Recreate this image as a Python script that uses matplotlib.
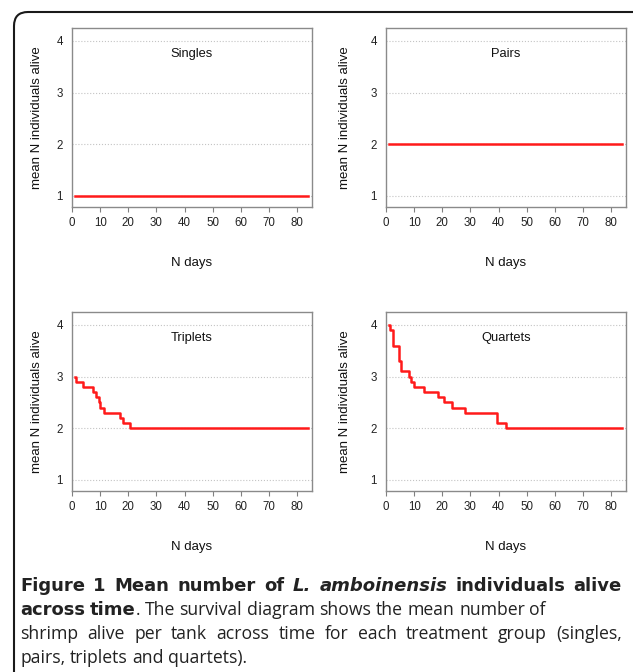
import matplotlib.pyplot as plt
from matplotlib.patches import FancyBboxPatch
from matplotlib.transforms import IdentityTransform

# step data: day at which each level starts, and the mean N alive
singles_days = [1]
singles_vals = [1.0]
pairs_days = [1]
pairs_vals = [2.0]
triplets_days = [1, 1.5, 4, 7.5, 8.5, 9.5, 10, 11.5, 17, 18, 20.5]
triplets_vals = [3.0, 2.9, 2.8, 2.7, 2.6, 2.5, 2.4, 2.3, 2.2, 2.1, 2.0]
quartets_days = [1, 1.5, 2.5, 4.5, 5.5, 8, 9, 10, 13.5, 18.5, 20.5, 23.5, 28, 39.5, 42.5]
quartets_vals = [4.0, 3.9, 3.6, 3.3, 3.1, 3.0, 2.9, 2.8, 2.7, 2.6, 2.5, 2.4, 2.3, 2.1, 2.0]
last_day = 84
titles = ["Singles", "Pairs", "Triplets", "Quartets"]

W, H = 633, 672
fig = plt.figure(figsize=(W / 100, H / 100), dpi=100)
fig.patch.set_facecolor("white")

# outer frame of the figure box
frame = FancyBboxPatch((14, -60), 640, H - 12 + 60,
                       boxstyle="round,pad=0,rounding_size=14",
                       transform=IdentityTransform(), fill=False,
                       edgecolor="#1a1a1a", lw=1.5)
fig.add_artist(frame)

boxes = [(72, 28, 312, 207), (386, 28, 626, 207),
         (72, 312, 312, 491), (386, 312, 626, 491)]
ylab_off = [35, 41, 35, 41]
data = [(singles_days, singles_vals), (pairs_days, pairs_vals),
        (triplets_days, triplets_vals), (quartets_days, quartets_vals)]

sans = "Liberation Sans"
for i in range(4):
    x0, y0, x1, y1 = boxes[i]
    ax = fig.add_axes([x0 / W, 1 - y1 / H, (x1 - x0) / W, (y1 - y0) / H])
    days, vals = data[i]
    ax.step(days + [last_day], vals + [vals[-1]], where="post",
            color="#ff1a1a", lw=1.8, zorder=3)
    ax.set_xlim(0, 85.3)
    ax.set_ylim(0.787, 4.25)
    ax.set_xticks(range(0, 81, 10))
    ax.set_yticks([1, 2, 3, 4])
    ax.grid(axis="y", ls=":", color="#c4c4c4", lw=0.8)
    ax.tick_params(axis="y", length=0, pad=6.5, labelsize=8.3, labelcolor="#222222")
    ax.tick_params(axis="x", length=3.6, pad=3.5, labelsize=8.3,
                   color="#808080", labelcolor="#222222")
    for lab in ax.get_xticklabels() + ax.get_yticklabels():
        lab.set_family(sans)
    for sp in ax.spines.values():
        sp.set_color("#8a8a8a")
        sp.set_linewidth(1.0)
    ax.text(0.5, 0.855, titles[i], transform=ax.transAxes, ha="center",
            va="center", fontsize=9.3, family=sans, color="#111111")
    ax.text(0.5, -0.313, "N days", transform=ax.transAxes, ha="center",
            va="center", fontsize=9.5, family=sans, color="#111111")
    ax.text(-ylab_off[i] / (x1 - x0), 0.5, "mean N individuals alive",
            transform=ax.transAxes, ha="center", va="center", rotation=90,
            fontsize=9.5, family=sans, color="#111111")

# caption, placed word by word so that lines can be justified
renderer = fig.canvas.get_renderer()
cap_size = 12.7
bold_size = 13.0
left, right = 20, 622


def make_text(x, y, txt, weight, style):
    if weight == "bold":
        return fig.text(x, y, txt, fontsize=bold_size, family="DejaVu Sans",
                        weight="bold", style=style, color="#222222", va="baseline")
    return fig.text(x, y, txt, fontsize=cap_size, family="Open Sans",
                    style=style, color="#222222", va="baseline")


def word_width(txt, weight, style):
    t = make_text(0, 0, txt, weight, style)
    w = t.get_window_extent(renderer).width
    t.remove()
    return w


def put_line(words, ybase, justify):
    # words: list of (text, weight, style, space_before)
    widths = [word_width(w[0], w[1], w[2]) for w in words]
    space = word_width("a b", "normal", "normal") - word_width("ab", "normal", "normal")
    n_sp = sum(1 for w in words[1:] if w[3])
    if justify and n_sp:
        space = (right - left - sum(widths)) / n_sp
    x = left
    for k, (txt, weight, style, sp) in enumerate(words):
        if k > 0 and sp:
            x += space
        make_text(x / W, 1 - ybase / H, txt, weight, style)
        x += widths[k]


def plain(s, weight="normal", style="normal"):
    return [(w, weight, style, True) for w in s.split()]


line1 = plain("Figure 1 Mean number of", "bold") + plain("L. amboinensis", "bold", "italic") \
    + plain("individuals alive", "bold")
line2 = plain("across time", "bold") + [(".", "normal", "normal", False)] \
    + plain("The survival diagram shows the mean number of")
line3 = plain("shrimp alive per tank across time for each treatment group (singles,")
line4 = plain("pairs, triplets and quartets).")

put_line(line1, 591, True)
put_line(line2, 615, False)
put_line(line3, 639, True)
put_line(line4, 663, False)

fig.savefig("out.png", dpi=100)
